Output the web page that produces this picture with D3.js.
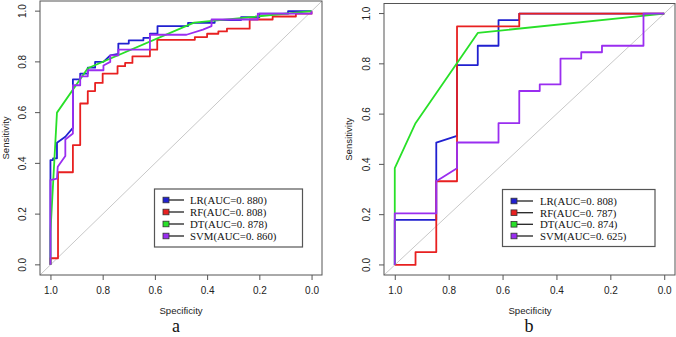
<!DOCTYPE html>
<html>
<head>
<meta charset="utf-8">
<script src="https://cdn.jsdelivr.net/npm/d3@7"></script>
<style>
    body { margin: 0; background: #fff; }
    svg { display: block; }
</style>
</head>
<body>
<script>
/////////// DATA //////////
const tickValues = [1.0, 0.8, 0.6, 0.4, 0.2, 0.0];
const tickLabels = ["1.0", "0.8", "0.6", "0.4", "0.2", "0.0"];
const modelNames = ["LR", "RF", "DT", "SVM"];
const aucA = ["0. 880", "0. 808", "0. 878", "0. 860"];
const aucB = ["0. 808", "0. 787", "0. 874", "0. 625"];

// panel a: [specificity, sensitivity]
const lrA = [[1,0],[1,0.413],[0.99,0.413],[0.99,0.42],[0.975,0.42],[0.975,0.481],[0.943,0.505],[0.914,0.54],
    [0.914,0.731],[0.886,0.731],[0.886,0.754],[0.857,0.754],[0.857,0.777],[0.829,0.777],[0.829,0.8],[0.797,0.8],
    [0.771,0.826],[0.74,0.832],[0.74,0.872],[0.7,0.872],[0.7,0.885],[0.644,0.885],[0.644,0.895],[0.619,0.895],
    [0.619,0.911],[0.59,0.911],[0.59,0.941],[0.473,0.941],[0.473,0.954],[0.371,0.954],[0.371,0.965],[0.27,0.965],
    [0.27,0.976],[0.2,0.976],[0.2,0.99],[0.09,0.99],[0.09,1],[0,1]];
const rfA = [[1,0],[1,0.026],[0.971,0.026],[0.971,0.365],[0.914,0.365],[0.914,0.472],[0.886,0.472],[0.886,0.636],
    [0.857,0.636],[0.857,0.685],[0.829,0.685],[0.829,0.717],[0.8,0.717],[0.8,0.754],[0.743,0.754],[0.743,0.783],
    [0.714,0.783],[0.714,0.796],[0.686,0.796],[0.686,0.822],[0.619,0.822],[0.619,0.848],[0.591,0.848],[0.591,0.887],
    [0.447,0.887],[0.447,0.898],[0.4,0.898],[0.4,0.911],[0.357,0.911],[0.357,0.92],[0.324,0.92],[0.324,0.931],
    [0.237,0.931],[0.237,0.967],[0.149,0.967],[0.149,0.979],[0.06,0.979],[0.06,0.99],[0,0.99],[0,1]];
const dtA = [[1,0],[1,0.13],[0.975,0.6],[0.857,0.775],[0.45,0.955],[0,1]];
const svmA = [[1,0],[1,0.334],[0.975,0.34],[0.972,0.387],[0.943,0.429],[0.943,0.494],[0.914,0.518],[0.914,0.708],
    [0.886,0.708],[0.886,0.743],[0.857,0.743],[0.857,0.767],[0.797,0.767],[0.797,0.786],[0.771,0.8],[0.771,0.826],
    [0.74,0.826],[0.74,0.848],[0.619,0.848],[0.619,0.907],[0.479,0.907],[0.416,0.927],[0.383,0.941],[0.383,0.967],
    [0.206,0.967],[0.206,0.99],[0,0.99],[0,1]];

// panel b
const lrB = [[1,0],[1,0.179],[0.846,0.179],[0.846,0.487],[0.769,0.513],[0.769,0.795],[0.692,0.795],[0.692,0.872],
    [0.615,0.872],[0.615,0.974],[0.538,0.974],[0.538,1],[0,1]];
const rfB = [[1,0],[0.923,0],[0.923,0.051],[0.846,0.051],[0.846,0.333],[0.769,0.333],[0.769,0.949],[0.538,0.949],
    [0.538,1],[0,1]];
const dtB = [[1,0],[1,0.385],[0.923,0.564],[0.692,0.923],[0,1]];
const svmB = [[1,0],[1,0.205],[0.846,0.205],[0.846,0.333],[0.769,0.385],[0.769,0.487],[0.615,0.487],[0.615,0.564],
    [0.538,0.564],[0.538,0.692],[0.462,0.692],[0.462,0.718],[0.385,0.718],[0.385,0.821],[0.308,0.821],[0.308,0.846],
    [0.231,0.846],[0.231,0.872],[0.077,0.872],[0.077,1],[0,1]];

(function(){

    /////////// CONFIGURATION //////////
    const width = 676, height = 337;
    const colors = ["#2020d0", "#e82020", "#28e028", "#9a2ef0"]; // LR, RF, DT, SVM
    const axisFont = "'Liberation Sans', Arial, sans-serif";
    const legendFont = "'Liberation Serif', 'Times New Roman', serif";

    // panel layout: plot box, legend box, caption
    const panels = [
        { curves: [lrA, rfA, dtA, svmA], auc: aucA, caption: "a",
          box: { x0: 40, x1: 322, y0: 1, y1: 275 },
          yTickX: 22, yTitleX: 5, xTitleX: 181, captionX: 176,
          legend: { x0: 154.5, x1: 302.5, y0: 189, y1: 247, sq: 163, lineEnd: 184, text: 190, rows: [200, 212, 224, 236] } },
        { curves: [lrB, rfB, dtB, svmB], auc: aucB, caption: "b",
          box: { x0: 384, x1: 675, y0: 3.5, y1: 275 },
          yTickX: 366, yTitleX: 348, xTitleX: 530, captionX: 529,
          legend: { x0: 502.5, x1: 655, y0: 189.5, y1: 246.5, sq: 511, lineEnd: 533, text: 540, rows: [201, 212.7, 224.3, 236] } }
    ];

    const svg = d3.select("body").append("svg")
        .attr("width", width)
        .attr("height", height);

    panels.forEach(drawPanel);

    function drawPanel(p) {
        const b = p.box;
        // R style: 4% padding on both axes, specificity reversed
        const x = d3.scaleLinear().domain([1.04, -0.04]).range([b.x0, b.x1]);
        const y = d3.scaleLinear().domain([-0.04, 1.04]).range([b.y1, b.y0]);
        const g = svg.append("g");

        const clipId = "clip-" + p.caption;
        g.append("clipPath").attr("id", clipId)
            .append("rect")
            .attr("x", b.x0).attr("y", b.y0)
            .attr("width", b.x1 - b.x0).attr("height", b.y1 - b.y0);

        // identity diagonal
        g.append("line")
            .attr("clip-path", `url(#${clipId})`)
            .attr("x1", x(1.04)).attr("y1", y(-0.04))
            .attr("x2", x(-0.04)).attr("y2", y(1.04))
            .attr("stroke", "#c8c8c8").attr("stroke-width", 1);

        // ROC curves
        const line = d3.line().x(d => x(d[0])).y(d => y(d[1]));
        p.curves.forEach((pts, i) => {
            g.append("path")
                .datum(pts)
                .attr("d", line)
                .attr("fill", "none")
                .attr("stroke", colors[i])
                .attr("stroke-width", 1.8)
                .attr("stroke-linejoin", "round");
        });

        // plot box
        g.append("rect")
            .attr("x", b.x0).attr("y", b.y0)
            .attr("width", b.x1 - b.x0).attr("height", b.y1 - b.y0)
            .attr("fill", "none").attr("stroke", "#555").attr("stroke-width", 1);

        // x axis (bottom)
        const xAxis = d3.axisBottom(x).tickValues(tickValues).tickSize(5).tickPadding(7)
            .tickFormat((d, i) => tickLabels[i]);
        const gx = g.append("g").attr("transform", `translate(0,${b.y1})`).call(xAxis);
        gx.select(".domain").remove();
        gx.selectAll("line").attr("stroke", "#555");
        gx.selectAll("text").attr("font-family", axisFont).attr("font-size", 10).attr("fill", "#222");

        // y axis (left), labels parallel to axis
        const yAxis = d3.axisLeft(y).tickValues(tickValues).tickSize(5).tickFormat((d, i) => tickLabels[i]);
        const gy = g.append("g").attr("transform", `translate(${b.x0},0)`).call(yAxis);
        gy.select(".domain").remove();
        gy.selectAll("line").attr("stroke", "#555");
        gy.selectAll("text")
            .attr("font-family", axisFont).attr("font-size", 10).attr("fill", "#222")
            .attr("text-anchor", "middle").attr("dy", null).attr("x", null)
            .attr("transform", d => `translate(${p.yTickX - b.x0},${y(d)}) rotate(-90)`)
            .attr("y", 0).attr("dominant-baseline", "central");
        gy.selectAll(".tick").attr("transform", null);
        gy.selectAll(".tick line").attr("y1", d => y(d)).attr("y2", d => y(d));

        // axis titles
        g.append("text")
            .attr("x", p.xTitleX).attr("y", 314)
            .attr("text-anchor", "middle")
            .attr("font-family", axisFont).attr("font-size", 9.6).attr("fill", "#222")
            .text("Specificity");
        g.append("text")
            .attr("transform", `translate(${p.yTitleX},${(y(0) + y(1)) / 2}) rotate(-90)`)
            .attr("text-anchor", "middle").attr("dominant-baseline", "central")
            .attr("font-family", axisFont).attr("font-size", 9.6).attr("fill", "#222")
            .text("Sensitivity");

        // caption (kept inside the frame)
        g.append("text")
            .attr("x", p.captionX).attr("y", 332)
            .attr("text-anchor", "middle")
            .attr("font-family", legendFont).attr("font-size", 18).attr("fill", "#111")
            .text(p.caption);

        drawLegend(g, p);
    }

    function drawLegend(g, p) {
        const L = p.legend;
        g.append("rect")
            .attr("x", L.x0).attr("y", L.y0)
            .attr("width", L.x1 - L.x0).attr("height", L.y1 - L.y0)
            .attr("fill", "#fff").attr("stroke", "#555").attr("stroke-width", 1.2);

        modelNames.forEach((name, i) => {
            const cy = L.rows[i];
            g.append("line")
                .attr("x1", L.sq + 5).attr("x2", L.lineEnd)
                .attr("y1", cy).attr("y2", cy)
                .attr("stroke", "#222").attr("stroke-width", 1.3);
            g.append("rect")
                .attr("x", L.sq).attr("y", cy - 2.8)
                .attr("width", 6).attr("height", 5.6)
                .attr("fill", colors[i]).attr("stroke", "#333").attr("stroke-width", 0.8);
            g.append("text")
                .attr("x", L.text).attr("y", cy)
                .attr("dominant-baseline", "central")
                .attr("font-family", legendFont).attr("font-size", 10.8).attr("fill", "#111")
                .text(`${name}(AUC=${p.auc[i]})`);
        });
    }

})();
</script>
</body>
</html>
